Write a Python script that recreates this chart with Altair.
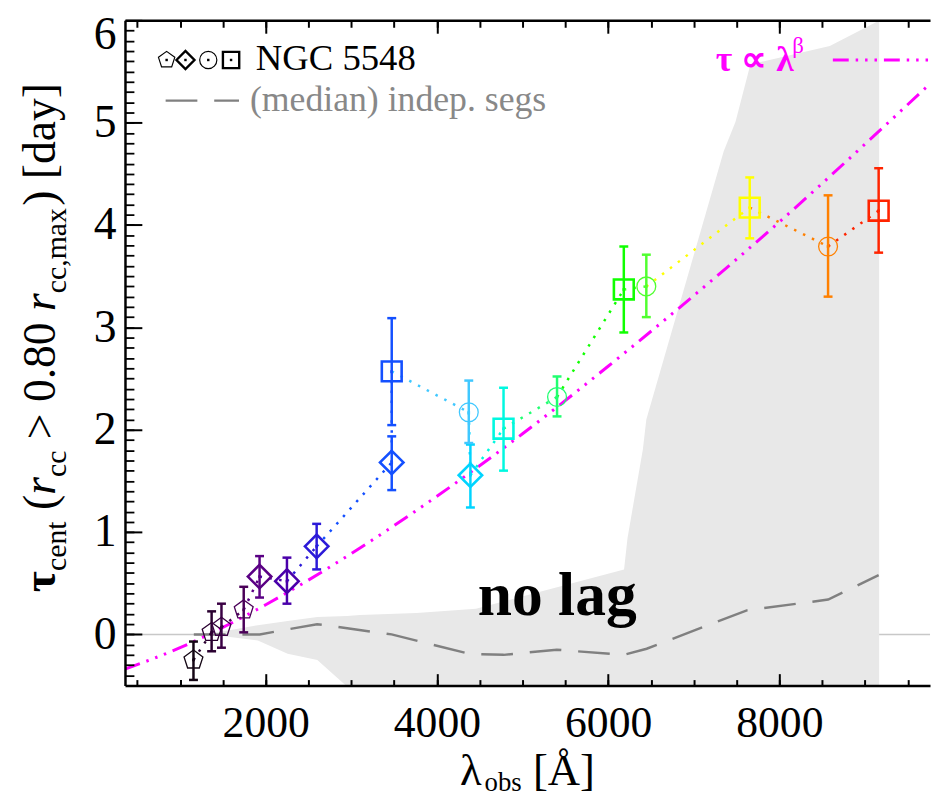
import altair as alt
import pandas as pd

# ---------------- data ----------------
lam_obs = [1156, 1368, 1483, 1743, 1928, 2248, 2595, 3472, 3472, 4372, 4391, 4778,
           5403, 6183, 6446, 7654, 8569, 9160]
tau_cent = [-0.25, 0.02, 0.07, 0.24, 0.565, 0.52, 0.86, 1.68, 2.57, 2.17, 1.555, 2.01,
            2.32, 3.37, 3.40, 4.17, 3.79, 4.14]
tau_hi = [-0.07, 0.225, 0.30, 0.465, 0.765, 0.75, 1.08, 1.935, 3.09, 2.48, 1.855, 2.41,
          2.52, 3.79, 3.71, 4.465, 4.29, 4.555]
tau_lo = [-0.445, -0.165, -0.13, 0.02, 0.36, 0.30, 0.635, 1.41, 2.045, 1.87, 1.24, 1.60,
          2.13, 2.95, 3.10, 3.87, 3.30, 3.73]
marker = ["pentagon"] * 4 + ["diamond"] * 4 + ["square", "circle", "diamond", "square",
                                               "circle", "square", "circle", "square",
                                               "circle", "square"]
point_color = ["#140614", "#2a0030", "#3a0044", "#4a0058", "#5a0084", "#4a00aa", "#2c1ad8",
               "#1450ff", "#1450ff", "#40c8ff", "#00d4ff", "#00f8e0", "#20ff70", "#10ff00",
               "#50ff30", "#ffff00", "#ff8000", "#ff2400"]

band_x = [1160, 1445, 1908, 2256, 2603, 2950, 3100, 3762, 4456, 6186, 6226, 6406, 6446,
          7350, 7488, 7662, 8589, 9151, 9166]
band_hi = [0.0, 0.02, 0.09, 0.13, 0.17, 0.18, 0.19, 0.21, 0.25, 0.635, 0.94, 1.81, 2.10,
           4.72, 5.01, 5.57, 5.75, 5.99, 6.3]
band_lo = [0.0, -0.01, -0.06, -0.19, -0.25, -0.51, -0.8, -0.8, -0.8, -0.8, -0.8, -0.8, -0.8,
           -0.8, -0.8, -0.8, -0.8, -0.8, -0.8]

median_x = [1160, 1930, 2600, 3470, 4380, 4780, 5400, 6180, 6450, 7620, 8570, 9160]
median_y = [0.0, 0.0, 0.10, 0.0, -0.19, -0.20, -0.15, -0.20, -0.14, 0.235, 0.34, 0.58]

fit_x = [356, 1000, 2000, 3000, 4000, 5000, 6000, 7000, 8000, 9000, 9760]
fit_y = [-0.34, -0.13, 0.29, 0.79, 1.35, 1.96, 2.62, 3.31, 4.03, 4.79, 5.38]

x_major = [2000, 4000, 6000, 8000]
x_minor = [v * 500 for v in range(1, 20)]
y_major = [0, 1, 2, 3, 4, 5, 6]
y_minor = [round(v / 10, 1) for v in range(-4, 60)]

# ---------------- layout constants ----------------
SERIF = "Liberation Serif"
W, H = 812, 671
OX, OY = 126, 17          # page position of the plot origin
MAGENTA = "#ff00ff"

xs = alt.Scale(domain=[356, 9760], nice=False, zero=False)
ys = alt.Scale(domain=[-0.5, 6.0], nice=False, zero=False)


def X(f):
    return alt.X(f, type="quantitative", scale=xs, axis=None)


def Y(f):
    return alt.Y(f, type="quantitative", scale=ys, axis=None)


pts = pd.DataFrame({"lam": lam_obs, "tau": tau_cent, "hi": tau_hi, "lo": tau_lo,
                    "marker": marker, "col": point_color})
seg = pd.DataFrame({"x1": lam_obs[:-1], "y1": tau_cent[:-1], "x2": lam_obs[1:],
                    "y2": tau_cent[1:], "col": point_color[1:]})
band = pd.DataFrame({"x": band_x, "hi": band_hi, "lo": band_lo})
med = pd.DataFrame({"x": median_x, "y": median_y})
fit = pd.DataFrame({"x": fit_x, "y": fit_y})
dummy = pd.DataFrame({"a": [0]})

COL = alt.Color("col:N", scale=None)
PENT = "M0,-1L0.951,-0.309L0.588,0.809L-0.588,0.809L-0.951,-0.309Z"
FIT_DASH = [16, 7, 2.5, 7, 2.5, 7, 2.5, 7]

layers = []
layers.append(alt.Chart(pd.DataFrame({"y": [0]})).mark_rule(color="#c8c8c8", strokeWidth=1.5)
              .encode(y=Y("y")))
layers.append(alt.Chart(band).mark_area(color="#e8e8e8", clip=True, interpolate="linear")
              .encode(x=X("x"), y=Y("hi"), y2=alt.Y2("lo")))
layers.append(alt.Chart(med).mark_line(color="#808080", strokeWidth=2.5, strokeDash=[32, 17])
              .encode(x=X("x"), y=Y("y")))
layers.append(alt.Chart(fit).mark_line(color=MAGENTA, strokeWidth=3, strokeDash=FIT_DASH,
                                       clip=True, interpolate="monotone")
              .encode(x=X("x"), y=Y("y")))
layers.append(alt.Chart(seg).mark_rule(strokeWidth=2.5, strokeDash=[2.5, 7.5])
              .encode(x=X("x1"), y=Y("y1"), x2=alt.X2("x2"), y2=alt.Y2("y2"), color=COL))
layers.append(alt.Chart(pts).mark_rule(strokeWidth=2.5)
              .encode(x=X("lam"), y=Y("lo"), y2=alt.Y2("hi"), color=COL))
for f in ["hi", "lo"]:
    layers.append(alt.Chart(pts).mark_tick(orient="horizontal", size=9, thickness=2.5, opacity=1)
                  .encode(x=X("lam"), y=Y(f), color=COL))

marker_style = {"pentagon": (PENT, 400, 1.3), "diamond": ("diamond", 560, 2.6),
                "circle": ("circle", 361, 1.3), "square": ("square", 400, 2.6)}
for name, (shape, size, sw) in marker_style.items():
    layers.append(alt.Chart(pts).transform_filter(alt.datum.marker == name)
                  .mark_point(shape=shape, size=size, strokeWidth=sw, filled=False, opacity=1)
                  .encode(x=X("lam"), y=Y("tau"), color=COL))
layers.append(alt.Chart(pts).mark_point(shape="square", size=7, filled=True, opacity=1)
              .encode(x=X("lam"), y=Y("tau"), color=COL))

# "no lag" annotation
layers.append(alt.Chart(dummy).mark_text(text="no lag", font=SERIF, fontSize=62, fontWeight="bold",
                                         align="center", baseline="alphabetic", color="black")
              .encode(x=alt.value(562 - OX), y=alt.value(617 - OY)))


def txt(s, px, py, size, color="black", weight="normal", style="normal", angle=0):
    return (alt.Chart(dummy)
            .mark_text(text=s, font=SERIF, fontSize=size, fontWeight=weight, fontStyle=style,
                       color=color, align="left", baseline="alphabetic", angle=angle)
            .encode(x=alt.value(px - OX), y=alt.value(py - OY)))


# legend (top left)
leg_sym = [(PENT, 300, 1.2, 168), ("diamond", 330, 2.4, 187), ("circle", 300, 1.2, 210),
           ("square", 270, 2.4, 233)]
for shape, size, sw, px in leg_sym:
    layers.append(alt.Chart(dummy).mark_point(shape=shape, size=size, strokeWidth=sw, filled=False,
                                              opacity=1, color="black")
                  .encode(x=alt.value(px - OX), y=alt.value(57 - OY)))
    layers.append(alt.Chart(dummy).mark_point(shape="square", size=6, filled=True, opacity=1,
                                              color="black")
                  .encode(x=alt.value(px - OX), y=alt.value(57 - OY)))
layers.append(txt("NGC 5548", 258, 67, 37))
layers.append(alt.Chart(dummy).mark_rule(color="#808080", strokeWidth=2.5, strokeDash=[32, 17])
              .encode(x=alt.value(167 - OX), x2=alt.value(241 - OX), y=alt.value(98 - OY)))
layers.append(txt("(median) indep. segs", 252, 108, 36, color="#888888"))

# legend (top right)
layers.append(txt("τ ∝ λ", 722, 68, 36, color=MAGENTA, weight="bold"))
layers.append(txt("β", 799, 50, 23, color=MAGENTA))
layers.append(alt.Chart(dummy).mark_rule(color=MAGENTA, strokeWidth=3, strokeDash=FIT_DASH)
              .encode(x=alt.value(840 - OX), x2=alt.value(945 - OX), y=alt.value(57 - OY)))

# axis titles built from pieces (sub/superscripts); gap = space before the piece (em)
WID = {"(": .333, ")": .333, "[": .333, "]": .333, ">": .564, "0": .5, "8": .5,
       ".": .25, ",": .25, "c": .444, "e": .444, "n": .5, "t": .278, "r": .389, "m": .778,
       "a": .444, "x": .5, "d": .5, "y": .5, "o": .5, "b": .5, "s": .389, "τ": .47, "λ": .55,
       "Å": .722}


def width(s, size):
    return sum(WID.get(ch, .5) for ch in s) * size


# (text, size, weight, style, baseline shift, gap before in em)
ytitle = [("τ", 46, "bold", "normal", 0, 0), ("cent", 30, "normal", "normal", 11, 0),
          ("(", 46, "normal", "normal", 0, .25), ("r", 46, "normal", "italic", 0, 0),
          ("cc", 30, "normal", "normal", 11, 0), (">", 46, "normal", "normal", 0, .25),
          ("0.80", 46, "normal", "normal", 0, .25), ("r", 46, "normal", "italic", 0, .25),
          ("cc,max", 30, "normal", "normal", 11, 0), (")", 46, "normal", "normal", 0, .05),
          ("[day]", 46, "normal", "normal", 0, .25)]
cy = 594
for s, size, wt, st, shift, gap in ytitle:
    cy -= gap * size
    layers.append(txt(s, 55 + shift, cy, size, weight=wt, style=st, angle=270))
    cy -= width(s, size)

xtitle = [("λ", 45, "normal", "normal", 0, 0), ("obs", 27, "normal", "normal", 6, 0),
          ("[Å]", 45, "normal", "normal", 0, .25)]
cx = 464
for s, size, wt, st, shift, gap in xtitle:
    cx += gap * size
    layers.append(txt(s, cx, 788 + shift, size, weight=wt, style=st))
    cx += width(s, size)


# ---------------- axes (frame with inward ticks) ----------------
def axis_layer(xaxis, yaxis):
    return (alt.Chart(pd.DataFrame({"x": [5000], "y": [0]})).mark_point(opacity=0)
            .encode(x=alt.X("x:Q", scale=xs, axis=xaxis), y=alt.Y("y:Q", scale=ys, axis=yaxis)))


common = dict(grid=False, title=None, zindex=2, labelFlush=False, labelOverlap=False)
tick_only = dict(labels=False, ticks=True, tickColor="black", domain=False, **common)
ylab = dict(format="d", labelFont=SERIF, labelFontSize=46, labelColor="black", ticks=False,
            tickSize=0, labelPadding=9, labelBaseline="middle", **common)

layers.append(axis_layer(
    alt.Axis(orient="bottom", values=x_major, format="d", labelFont=SERIF, labelFontSize=44,
             labelColor="black", ticks=False, tickSize=0, labelPadding=16, domain=True,
             domainColor="black", domainWidth=2.5, **common),
    alt.Axis(orient="left", values=y_major[:-1], domain=True, domainColor="black",
             domainWidth=2.5, **ylab)))
layers.append(axis_layer(None, alt.Axis(orient="left", values=y_major[-1:], domain=False,
                                        labelOffset=14, **ylab)))
layers.append(axis_layer(
    alt.Axis(orient="top", offset=-H, values=x_major, tickSize=12, tickWidth=2, **tick_only),
    alt.Axis(orient="right", offset=-W, values=y_major, tickSize=17, tickWidth=2, **tick_only)))
layers.append(axis_layer(
    alt.Axis(orient="top", offset=-H, values=x_minor, tickSize=6, tickWidth=2, **tick_only),
    alt.Axis(orient="right", offset=-W, values=y_minor, tickSize=9, tickWidth=1.8, **tick_only)))
layers.append(axis_layer(
    alt.Axis(orient="bottom", offset=-H, values=x_major, tickSize=13, tickWidth=2,
             labels=False, ticks=True, tickColor="black", domain=True, domainColor="black",
             domainWidth=2.5, **common),
    None))
layers.append(axis_layer(
    alt.Axis(orient="bottom", offset=-H, values=x_minor, tickSize=7, tickWidth=2, **tick_only),
    None))

chart = (alt.layer(*layers)
         .resolve_axis(x="independent", y="independent")
         .properties(width=W, height=H, autosize=alt.AutoSizeParams(type="none"),
                     padding={"left": OX - 8, "top": OY - 8, "right": 2, "bottom": 112},
                     background="white")
         .configure_view(stroke=None))

chart.save("out.html", embed_options={"renderer": "svg", "actions": False})
